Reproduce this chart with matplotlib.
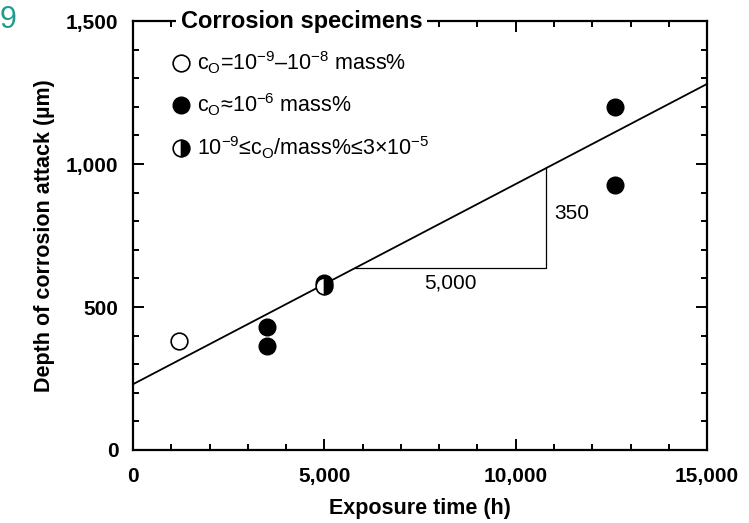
import numpy as np
import matplotlib.pyplot as plt
from matplotlib.ticker import MultipleLocator, FuncFormatter

plt.rcParams['font.family'] = ['Liberation Sans', 'DejaVu Sans']
plt.rcParams['mathtext.fontset'] = 'custom'
plt.rcParams['mathtext.rm'] = 'Liberation Sans'
plt.rcParams['mathtext.it'] = 'Liberation Sans:italic'
plt.rcParams['mathtext.bf'] = 'Liberation Sans:bold'

# ---- data ----------------------------------------------------------------
t_low = [1200]            # c_O = 1e-9..1e-8
d_low = [380]
t_mid = [3500, 3500, 5000, 12600, 12600]   # c_O ~ 1e-6
d_mid = [430, 365, 585, 1200, 928]
t_var = [5000]            # 1e-9 <= c_O <= 3e-5
d_var = [573]

fit_t = [0, 15000]
fit_intercept = 230
fit_slope = 350 / 5000

tri_t = [5800, 10800]     # slope triangle

legend_labels = [
    r'c$_\mathrm{O}$=10$^{\mathrm{-9}}$–10$^{\mathrm{-8}}$ mass%',
    r'c$_\mathrm{O}$≈10$^{\mathrm{-6}}$ mass%',
    r'10$^{\mathrm{-9}}$≤c$_\mathrm{O}$/mass%≤3×10$^{\mathrm{-5}}$',
]

fig = plt.figure(figsize=(7.49, 5.23), dpi=100)
ax = fig.add_axes([0.1776, 0.1396, 0.944 - 0.1776, 0.9598 - 0.1396])

# fit line
fx = np.array(fit_t)
ax.plot(fx, fit_intercept + fit_slope * fx, color='black', lw=1.3, zorder=2)

# slope triangle
y0 = fit_intercept + fit_slope * tri_t[0]
y1 = fit_intercept + fit_slope * tri_t[1]
ax.plot([tri_t[0], tri_t[1], tri_t[1]], [y0, y0, y1], color='black', lw=0.9)
ax.text(8300, y0 - 20, '5,000', ha='center', va='top', fontsize=15)
ax.text(tri_t[1] + 220, (y0 + y1) / 2 + 15, '350', ha='left', va='center', fontsize=15)

ms = 12
mark_low = dict(marker='o', ms=ms, mfc='white', mec='black', mew=1.2)
mark_mid = dict(marker='o', ms=ms, mfc='black', mec='black')
mark_var = dict(marker='o', ms=ms, fillstyle='right', mfc='black',
                markerfacecoloralt='white', mec='black', mew=1.2)

ax.plot(t_mid, d_mid, ls='none', zorder=3, **mark_mid)
ax.plot(t_low, d_low, ls='none', zorder=3, **mark_low)
ax.plot(t_var, d_var, ls='none', zorder=4, **mark_var)

ax.set_xlim(0, 15000)
ax.set_ylim(0, 1500)
ax.xaxis.set_major_locator(MultipleLocator(5000))
ax.xaxis.set_minor_locator(MultipleLocator(1000))
ax.yaxis.set_major_locator(MultipleLocator(500))
ax.yaxis.set_minor_locator(MultipleLocator(100))
fmt = FuncFormatter(lambda v, p: f'{int(v):,}')
ax.xaxis.set_major_formatter(fmt)
ax.yaxis.set_major_formatter(fmt)
ax.tick_params(which='both', direction='in', top=True, right=True, width=1.4,
               labelsize=15)
ax.tick_params(which='major', length=8)
ax.tick_params(which='minor', length=4)
ax.tick_params(axis='x', which='major', pad=12)
ax.tick_params(axis='y', which='major', pad=10.5)
for lab in ax.get_xticklabels() + ax.get_yticklabels():
    lab.set_fontweight('bold')
for s in ax.spines.values():
    s.set_linewidth(1.6)

ax.set_xlabel('Exposure time (h)', fontsize=15.5, fontweight='bold', labelpad=9)
ax.set_ylabel('Depth of corrosion attack (µm)', fontsize=15.5, fontweight='bold',
              labelpad=8)

# legend title breaking top spine
ax.text(0.083, 1.0, 'Corrosion specimens', transform=ax.transAxes,
        ha='left', va='center', fontsize=17, fontweight='bold', zorder=10,
        bbox=dict(facecolor='white', edgecolor='none', pad=3), clip_on=False)

# legend rows
row_y = [0.902, 0.804, 0.704]
for yy, mk, lab in zip(row_y, [mark_low, mark_mid, mark_var], legend_labels):
    ax.plot([0.0836], [yy], transform=ax.transAxes, clip_on=False, ls='none', **mk)
    ax.text(0.111, yy, lab, transform=ax.transAxes, ha='left', va='center',
            fontsize=15.5)

fig.text(0.0, 0.962, '9', color='#1f9c8e', fontsize=22, ha='left', va='center')

fig.savefig('out.png', dpi=100)
